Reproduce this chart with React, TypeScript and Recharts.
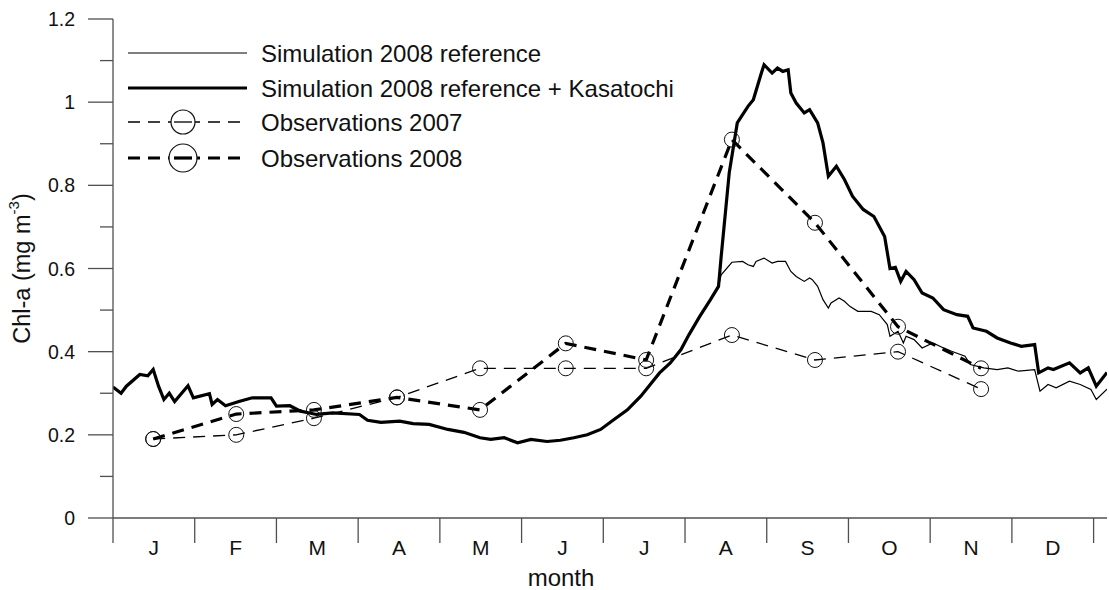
import { LineChart, Line, XAxis, YAxis, Label } from "recharts";

const FONT = "Arial, 'Liberation Sans', Helvetica, sans-serif";

// month ticks: equal month width, labels centred between ticks
const monthLetters = ["J", "F", "M", "A", "M", "J", "J", "A", "S", "O", "N", "D"];
const monthLength = 30.5;
const dayMax = 371;

const yTicks = [0, 0.1, 0.2, 0.3, 0.4, 0.5, 0.6, 0.7, 0.8, 0.9, 1, 1.1, 1.2];

// simulation, both runs identical until late July [day, chl]
const simShared: [number, number][] = [
  [0, 0.315], [3, 0.3], [5, 0.317], [10, 0.345], [13, 0.342], [15, 0.357], [17, 0.317],
  [19, 0.285], [21, 0.3], [23, 0.28], [28, 0.318], [30, 0.289], [36, 0.299], [37, 0.273],
  [39, 0.285], [42, 0.27], [47, 0.28], [52, 0.289], [59, 0.289], [61, 0.269], [66, 0.27],
  [70, 0.257], [76, 0.249], [82, 0.253], [92, 0.249], [95, 0.235], [100, 0.23], [107, 0.233],
  [112, 0.227], [118, 0.225], [125, 0.213], [131, 0.206], [137, 0.193], [141, 0.189],
  [146, 0.193], [151, 0.181], [156, 0.189], [162, 0.184], [167, 0.187], [172, 0.193],
  [177, 0.2], [182, 0.213], [187, 0.237], [192, 0.26], [197, 0.293], [200, 0.317],
  [204, 0.349], [208, 0.373], [212, 0.405], [215, 0.441], [219, 0.485], [223, 0.525],
  [226, 0.557],
];

// simulation 2008 reference, after divergence
const simRefTail: [number, number][] = [
  [227, 0.585], [231, 0.615], [235, 0.617], [237, 0.609], [239, 0.605], [240, 0.617],
  [243, 0.625], [246, 0.613], [248, 0.617], [251, 0.617], [253, 0.593], [255, 0.581],
  [258, 0.569], [260, 0.577], [261, 0.573], [263, 0.557], [265, 0.525], [267, 0.505],
  [268, 0.517], [271, 0.529], [273, 0.521], [275, 0.509], [278, 0.497], [283, 0.497],
  [286, 0.489], [289, 0.465], [290, 0.437], [293, 0.449], [295, 0.421], [296, 0.437],
  [299, 0.429], [302, 0.409], [306, 0.421], [310, 0.409], [313, 0.401], [318, 0.389],
  [320, 0.369], [325, 0.361], [330, 0.357], [334, 0.361], [338, 0.353], [344, 0.357],
  [346, 0.305], [349, 0.321], [352, 0.313], [357, 0.329], [361, 0.321], [365, 0.309],
  [367, 0.285], [371, 0.31],
];

// simulation 2008 reference + Kasatochi, after divergence
const simKasTail: [number, number][] = [
  [227, 0.629], [230, 0.83], [233, 0.95], [237, 0.99], [239, 1.006], [242, 1.07],
  [243, 1.09], [246, 1.07], [248, 1.082], [250, 1.074], [252, 1.078], [253, 1.022],
  [255, 0.998], [258, 0.974], [260, 0.982], [263, 0.95], [265, 0.902], [267, 0.822],
  [270, 0.846], [273, 0.814], [276, 0.774], [280, 0.742], [284, 0.725], [288, 0.677],
  [290, 0.6], [292, 0.603], [294, 0.569], [296, 0.593], [299, 0.573], [302, 0.541],
  [306, 0.529], [310, 0.501], [315, 0.489], [319, 0.485], [321, 0.457], [326, 0.449],
  [330, 0.433], [335, 0.421], [339, 0.413], [344, 0.417], [345.5, 0.349], [349, 0.361],
  [351, 0.357], [357, 0.373], [361, 0.349], [364, 0.361], [367, 0.317], [371, 0.35],
];

const obsDays = [15, 46, 75, 106, 137, 169, 199, 231, 262, 293, 324];
const obs2007 = [0.19, 0.2, 0.24, 0.29, 0.36, 0.36, 0.36, 0.44, 0.38, 0.4, 0.31];
const obs2008 = [0.19, 0.25, 0.26, 0.29, 0.26, 0.42, 0.38, 0.91, 0.71, 0.46, 0.36];

const legendItems = [
  { name: "Simulation 2008 reference", width: 1.2, dash: "none", circle: 0 },
  { name: "Simulation 2008 reference + Kasatochi", width: 3.2, dash: "none", circle: 0 },
  { name: "Observations 2007", width: 1.3, dash: "12 8", circle: 12 },
  { name: "Observations 2008", width: 3.2, dash: "12 8", circle: 14 },
];

const toRows = (pairs: [number, number][]) => pairs.map(([day, chl]) => ({ day, chl }));
const refData = toRows([...simShared, ...simRefTail]);
const kasData = toRows([...simShared, ...simKasTail]);
const obs2007Data = obsDays.map((day, i) => ({ day, chl: obs2007[i] }));
const obs2008Data = obsDays.map((day, i) => ({ day, chl: obs2008[i] }));

const xTicks: number[] = [];
for (let k = 0; k <= 12; k++) {
  xTicks.push(k * monthLength);
  if (k < 12) xTicks.push(k * monthLength + monthLength / 2);
}

const AXIS = "#505050";

const MonthTick = (props: any) => {
  const { x, y, payload } = props;
  const m = payload.value / monthLength;
  if (Math.abs(m - Math.round(m)) < 1e-6) {
    return <line x1={x} x2={x} y1={y} y2={y + 25} stroke={AXIS} strokeWidth={1.3} />;
  }
  return (
    <text x={x} y={y + 29} textAnchor="middle" dominantBaseline="central" fontSize={21} fontFamily={FONT} fill="#111">
      {monthLetters[Math.floor(m)]}
    </text>
  );
};

const ChlTick = (props: any) => {
  const { x, y, payload } = props;
  const major = Math.round(payload.value * 10) % 2 === 0;
  return (
    <g>
      <line x1={x - (major ? 25 : 13)} x2={x} y1={y} y2={y} stroke={AXIS} strokeWidth={1.3} />
      {major && (
        <text x={x - 38} y={y} textAnchor="end" dominantBaseline="central" fontSize={19.5} fontFamily={FONT} fill="#111">
          {String(Number(payload.value.toFixed(1)))}
        </text>
      )}
    </g>
  );
};

const Circle = (props: any) => {
  const { cx, cy, index } = props;
  return <circle key={index} cx={cx} cy={cy} r={7.5} fill="none" stroke="#111" strokeWidth={1} />;
};

const YTitle = (props: any) => {
  const { viewBox } = props;
  const cy = viewBox.y + viewBox.height / 2;
  return (
    <text x={22} y={cy} transform={`rotate(-90 22 ${cy})`} textAnchor="middle" dominantBaseline="central" fontSize={23.5} fontFamily={FONT} fill="#111">
      Chl-a (mg m<tspan dy={-9} fontSize={15}>-3</tspan><tspan dy={9} fontSize={23.5}>)</tspan>
    </text>
  );
};

const XTitle = () => (
  <text x={561} y={577} textAnchor="middle" dominantBaseline="central" fontSize={24} fontFamily={FONT} fill="#111">
    month
  </text>
);

const LegendBox = () => (
  <svg width={760} height={190} style={{ position: "absolute", left: 0, top: 0, pointerEvents: "none" }}>
    {legendItems.map((item, i) => {
      const y = [53, 88, 122, 158][i];
      return (
        <g key={item.name}>
          <line x1={128} x2={247} y1={y} y2={y} stroke="#000" strokeWidth={item.width} strokeDasharray={item.dash} />
          {item.circle > 0 && (
            <circle cx={183} cy={y} r={item.circle} fill="#fff" stroke="#111" strokeWidth={1.2} />
          )}
          {item.circle > 0 && (
            <line x1={174} x2={192} y1={y} y2={y} stroke="#000" strokeWidth={item.width} />
          )}
          <text x={261} y={y} dominantBaseline="central" fontSize={24} fontFamily={FONT} fill="#111">
            {item.name}
          </text>
        </g>
      );
    })}
  </svg>
);

export default function App() {
  return (
    <div style={{ position: "absolute", left: 0, top: 0, width: 1109, height: 590, background: "#fff" }}>
      <LineChart width={1109} height={590} margin={{ top: 19, right: 2, left: 0, bottom: 0 }}>
        <XAxis
          dataKey="day"
          type="number"
          domain={[0, dayMax]}
          ticks={xTicks}
          interval={0}
          tick={<MonthTick />}
          tickLine={false}
          tickSize={0}
          tickMargin={0}
          height={72}
          axisLine={{ stroke: AXIS, strokeWidth: 1.3 }}
          allowDataOverflow
        >
          <Label content={<XTitle />} />
        </XAxis>
        <YAxis
          type="number"
          domain={[0, 1.2]}
          ticks={yTicks}
          interval={0}
          tick={<ChlTick />}
          tickLine={false}
          tickSize={0}
          tickMargin={0}
          width={113}
          axisLine={{ stroke: AXIS, strokeWidth: 1.3 }}
        >
          <Label content={<YTitle />} />
        </YAxis>
        <Line data={refData} dataKey="chl" type="linear" stroke="#000" strokeWidth={1.2} dot={false} isAnimationActive={false} />
        <Line data={kasData} dataKey="chl" type="linear" stroke="#000" strokeWidth={3.2} dot={false} isAnimationActive={false} />
        <Line data={obs2007Data} dataKey="chl" type="linear" stroke="#000" strokeWidth={1.3} strokeDasharray="12 8" dot={Circle} isAnimationActive={false} />
        <Line data={obs2008Data} dataKey="chl" type="linear" stroke="#000" strokeWidth={3.2} strokeDasharray="12 8" dot={Circle} isAnimationActive={false} />
      </LineChart>
      <LegendBox />
    </div>
  );
}
